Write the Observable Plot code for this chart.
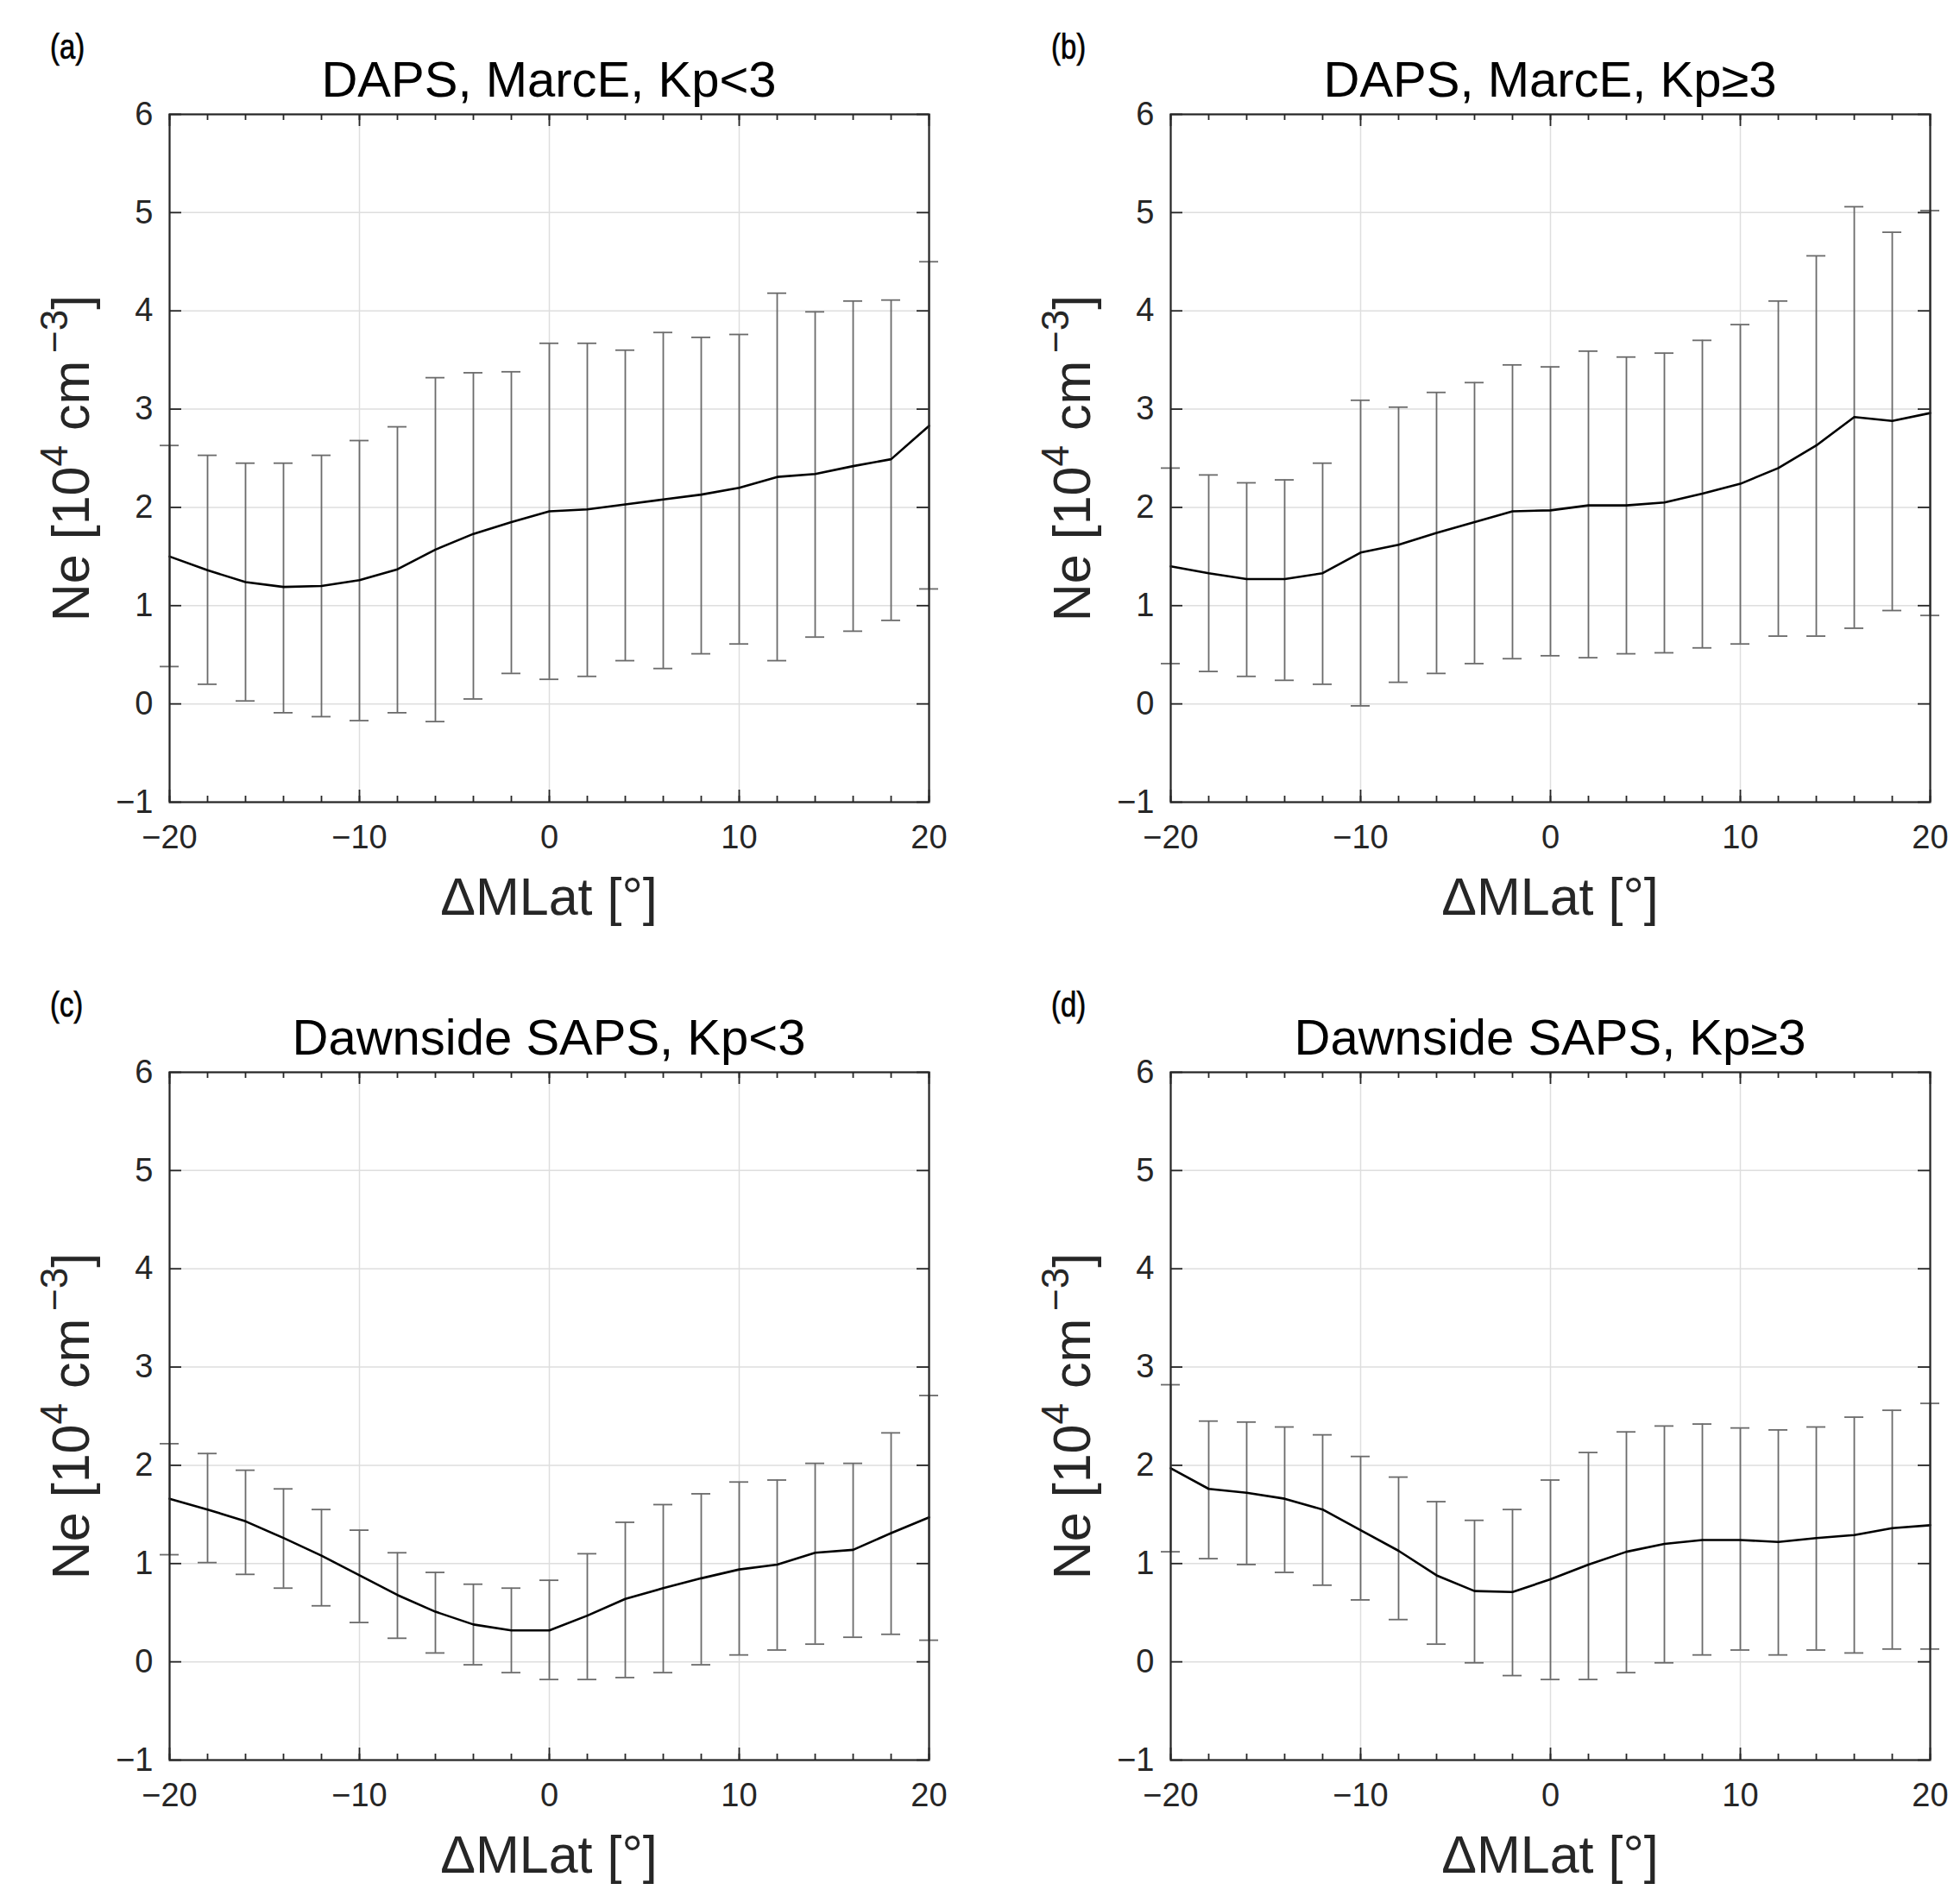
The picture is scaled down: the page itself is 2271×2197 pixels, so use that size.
<!DOCTYPE html>
<html>
<head>
<meta charset="utf-8">
<script src="https://cdn.jsdelivr.net/npm/d3@7"></script>
<script src="https://cdn.jsdelivr.net/npm/@observablehq/plot@0.6"></script>
<style>
  html, body { margin: 0; padding: 0; background: #fff; }
  #page { position: relative; width: 2271px; height: 2197px; background: #fff; overflow: hidden;
          font-family: "Liberation Sans", Arial, Helvetica, sans-serif; color: #262626; }
  .panel { position: absolute; }
  .panel svg { max-width: none !important; display: block; }
  .title { position: absolute; font-size: 58px; color: #000; white-space: nowrap; transform: translateX(-50%); line-height: 1; }
  .letter { position: absolute; font-size: 40px; color: #000; line-height: 1; transform: scaleX(0.82); transform-origin: top left; -webkit-text-stroke: 0.7px #000; }
  .xlabel { position: absolute; font-size: 61px; white-space: nowrap; transform: translateX(-50%); line-height: 1; color: #262626; }
  .ylabel { position: absolute; font-size: 61px; white-space: nowrap; line-height: 1; color: #262626;
            transform: translate(-50%, -50%) rotate(-90deg); }
  .ylabel sup { font-size: 44px; vertical-align: 0.55em; line-height: 0; }
</style>
</head>
<body>
<div id="page"></div>
<script>
// ---------- data ----------
const lat = [-20, -18, -16, -14, -12, -10, -8, -6, -4, -2, 0, 2, 4, 6, 8, 10, 12, 14, 16, 18, 20];

const aMean  = [1.50, 1.36, 1.24, 1.19, 1.20, 1.26, 1.37, 1.57, 1.73, 1.85, 1.96, 1.98, 2.03, 2.08, 2.13, 2.20, 2.31, 2.34, 2.42, 2.49, 2.83];
const aUpper = [2.63, 2.53, 2.45, 2.45, 2.53, 2.68, 2.82, 3.32, 3.37, 3.38, 3.67, 3.67, 3.60, 3.78, 3.73, 3.76, 4.18, 3.99, 4.10, 4.11, 4.50];
const aLower = [0.38, 0.20, 0.03, -0.09, -0.13, -0.17, -0.09, -0.18, 0.05, 0.31, 0.25, 0.28, 0.44, 0.36, 0.51, 0.61, 0.44, 0.68, 0.74, 0.85, 1.17];

const bMean  = [1.40, 1.33, 1.27, 1.27, 1.33, 1.54, 1.62, 1.74, 1.85, 1.96, 1.97, 2.02, 2.02, 2.05, 2.14, 2.24, 2.40, 2.63, 2.92, 2.88, 2.96];
const bUpper = [2.40, 2.33, 2.25, 2.28, 2.45, 3.09, 3.02, 3.17, 3.27, 3.45, 3.43, 3.59, 3.53, 3.57, 3.70, 3.86, 4.10, 4.56, 5.06, 4.80, 5.02];
const bLower = [0.41, 0.33, 0.28, 0.24, 0.20, -0.02, 0.22, 0.31, 0.41, 0.46, 0.49, 0.47, 0.51, 0.52, 0.57, 0.61, 0.69, 0.69, 0.77, 0.95, 0.90];

const cMean  = [1.66, 1.55, 1.43, 1.26, 1.08, 0.88, 0.68, 0.51, 0.38, 0.32, 0.32, 0.47, 0.64, 0.75, 0.85, 0.94, 0.99, 1.11, 1.14, 1.31, 1.47];
const cUpper = [2.22, 2.12, 1.95, 1.76, 1.55, 1.34, 1.11, 0.91, 0.79, 0.75, 0.83, 1.10, 1.42, 1.60, 1.71, 1.83, 1.85, 2.02, 2.02, 2.33, 2.71];
const cLower = [1.09, 1.01, 0.89, 0.75, 0.57, 0.40, 0.24, 0.09, -0.03, -0.11, -0.18, -0.18, -0.16, -0.11, -0.03, 0.07, 0.12, 0.18, 0.25, 0.28, 0.22];

const dMean  = [1.97, 1.76, 1.72, 1.66, 1.55, 1.34, 1.13, 0.88, 0.72, 0.71, 0.84, 0.99, 1.12, 1.20, 1.24, 1.24, 1.22, 1.26, 1.29, 1.36, 1.39];
const dUpper = [2.82, 2.45, 2.44, 2.39, 2.31, 2.09, 1.88, 1.63, 1.44, 1.55, 1.85, 2.13, 2.34, 2.40, 2.42, 2.38, 2.36, 2.39, 2.49, 2.56, 2.63];
const dLower = [1.12, 1.05, 0.99, 0.91, 0.78, 0.63, 0.43, 0.18, -0.01, -0.14, -0.18, -0.18, -0.11, -0.01, 0.07, 0.12, 0.07, 0.12, 0.09, 0.13, 0.13];

const xTicks = [-20, -10, 0, 10, 20];
const xMinorTicks = [-20, -18, -16, -14, -12, -10, -8, -6, -4, -2, 0, 2, 4, 6, 8, 10, 12, 14, 16, 18, 20];
const yTicks = [-1, 0, 1, 2, 3, 4, 5, 6];

const panelLetters = ["(a)", "(b)", "(c)", "(d)"];
const panelTitles = ["DAPS, MarcE, Kp<3", "DAPS, MarcE, Kp\u22653", "Dawnside SAPS, Kp<3", "Dawnside SAPS, Kp\u22653"];
const xLabel = "\u0394MLat [\u00b0]";

const series = [
  {mean: aMean, upper: aUpper, lower: aLower},
  {mean: bMean, upper: bUpper, lower: bLower},
  {mean: cMean, upper: cUpper, lower: cLower},
  {mean: dMean, upper: dUpper, lower: dLower}
];

// ---------- layout (frame positions in page pixels) ----------
const frames = [
  {left: 196, top: 132},
  {left: 1356, top: 132},
  {left: 196, top: 1242},
  {left: 1356, top: 1242}
];
const frameW = 880, frameH = 797;
const mL = 130, mR = 30, mT = 30, mB = 90;
const majorLen = 14, minorLen = 7;
const axisColor = "#262626";
const fmt = d => (d < 0 ? "\u2212" : "") + Math.abs(d);

const page = document.getElementById("page");

series.forEach((s, i) => {
  const data = lat.map((x, k) => ({x, mean: s.mean[k], hi: s.upper[k], lo: s.lower[k]}));
  const innerH = frameH;
  const innerW = frameW;
  const W = frameW + mL + mR, H = frameH + mT + mB;
  const chart = Plot.plot({
    width: W,
    height: H,
    marginLeft: mL, marginRight: mR, marginTop: mT, marginBottom: mB,
    style: {background: "transparent", fontFamily: '"Liberation Sans", Arial, Helvetica, sans-serif', fontSize: "38px", color: axisColor},
    x: {domain: [-20, 20], label: null},
    y: {domain: [-1, 6], label: null},
    marks: [
      // grid
      Plot.ruleX(xTicks, {stroke: "#dedede", strokeWidth: 1.5}),
      Plot.ruleY(yTicks, {stroke: "#dedede", strokeWidth: 1.5}),
      // inward ticks: x major/minor bottom & top
      Plot.ruleX(xMinorTicks, {stroke: axisColor, strokeWidth: 1.8, insetTop: innerH - minorLen}),
      Plot.ruleX(xMinorTicks, {stroke: axisColor, strokeWidth: 1.8, insetBottom: innerH - minorLen}),
      Plot.ruleX(xTicks, {stroke: axisColor, strokeWidth: 1.8, insetTop: innerH - majorLen}),
      Plot.ruleX(xTicks, {stroke: axisColor, strokeWidth: 1.8, insetBottom: innerH - majorLen}),
      // inward ticks: y left & right
      Plot.ruleY(yTicks, {stroke: axisColor, strokeWidth: 1.8, insetRight: innerW - majorLen}),
      Plot.ruleY(yTicks, {stroke: axisColor, strokeWidth: 1.8, insetLeft: innerW - majorLen}),
      // error bars
      Plot.ruleX(data, {x: "x", y1: "lo", y2: "hi", stroke: "#6b6b6b", strokeWidth: 1.8}),
      Plot.ruleY(data, {y: "hi", x1: d => d.x - 0.5, x2: d => d.x + 0.5, stroke: "#6b6b6b", strokeWidth: 1.8}),
      Plot.ruleY(data, {y: "lo", x1: d => d.x - 0.5, x2: d => d.x + 0.5, stroke: "#6b6b6b", strokeWidth: 1.8}),
      // mean line
      Plot.line(data, {x: "x", y: "mean", stroke: "#000", strokeWidth: 2.6}),
      // frame
      Plot.frame({stroke: axisColor, strokeWidth: 2.2}),
      Plot.axisX(xTicks, {tickSize: 0, tickPadding: 27, fontSize: 38, fill: axisColor, tickFormat: fmt, label: null}),
      Plot.axisY(yTicks, {tickSize: 0, tickPadding: 19, fontSize: 38, fill: axisColor, tickFormat: fmt, label: null})
    ]
  });
  const f = frames[i];
  const wrap = document.createElement("div");
  wrap.className = "panel";
  wrap.style.left = (f.left - mL) + "px";
  wrap.style.top = (f.top - mT) + "px";
  wrap.style.width = W + "px";
  wrap.style.height = H + "px";
  chart.style.maxWidth = "none";
  chart.setAttribute("width", W);
  chart.setAttribute("height", H);
  wrap.appendChild(chart);
  page.appendChild(wrap);

  // panel letter
  const letter = document.createElement("div");
  letter.className = "letter";
  letter.textContent = panelLetters[i];
  letter.style.left = (f.left - 138) + "px";
  letter.style.top = (f.top - 98) + "px";
  page.appendChild(letter);

  // title
  const title = document.createElement("div");
  title.className = "title";
  title.textContent = panelTitles[i];
  title.style.left = (f.left + frameW / 2) + "px";
  title.style.top = (f.top - 69) + "px";
  page.appendChild(title);

  // x label
  const xl = document.createElement("div");
  xl.className = "xlabel";
  xl.textContent = xLabel;
  xl.style.left = (f.left + frameW / 2) + "px";
  xl.style.top = (f.top + frameH + 80) + "px";
  page.appendChild(xl);

  // y label
  const yl = document.createElement("div");
  yl.className = "ylabel";
  yl.innerHTML = "Ne [10<sup>4</sup> cm<sup>\u2009\u22123</sup>]";
  yl.style.left = (f.left - 114) + "px";
  yl.style.top = (f.top + frameH / 2) + "px";
  page.appendChild(yl);
});
</script>
</body>
</html>
